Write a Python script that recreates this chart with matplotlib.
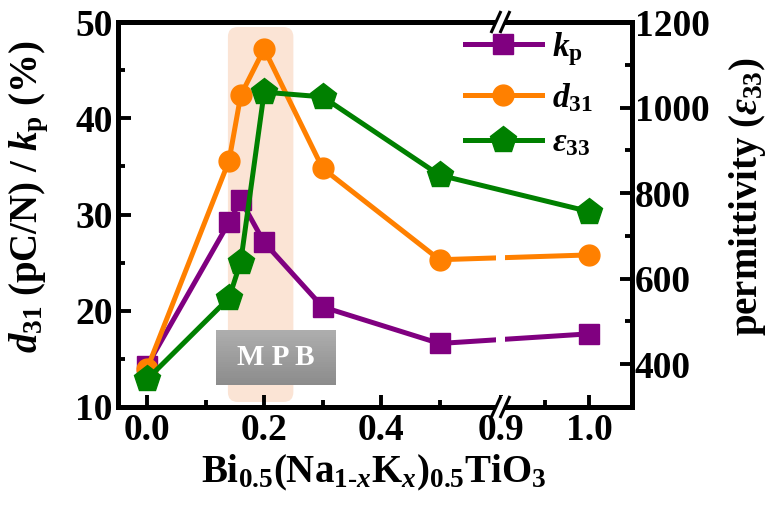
import numpy as np
import matplotlib
matplotlib.use('Agg')
import matplotlib.pyplot as plt
import matplotlib.transforms as mtransforms
from matplotlib.patches import Rectangle, FancyBboxPatch, Polygon

plt.rcParams['font.family'] = 'Liberation Serif'
plt.rcParams['font.weight'] = 'bold'
plt.rcParams['axes.labelweight'] = 'bold'
plt.rcParams['mathtext.fontset'] = 'custom'
plt.rcParams['mathtext.rm'] = 'Liberation Serif:bold'
plt.rcParams['mathtext.it'] = 'Liberation Serif:italic:bold'
plt.rcParams['mathtext.bf'] = 'Liberation Serif:bold'

# ── Data ──────────────────────────────────────────────────────────────────────
x_comp   = [0.0, 0.14, 0.16, 0.20, 0.30, 0.50, 1.00]
kp       = [14.3, 29.2, 31.5, 27.1, 20.4, 16.6, 17.6]
d31      = [14.0, 35.6, 42.4, 47.2, 34.8, 25.3, 25.8]
eps33    = [365, 555, 640, 1036, 1025, 842, 757]
mpb_span = (0.138, 0.25)

x_major = [0.0, 0.2, 0.4, 0.9, 1.0]
x_minor = [0.1, 0.3, 0.5, 0.95]
x_ticklabels = ['0.0', '0.2', '0.4', '0.9', '1.0']

C = {'kp': '#800080', 'd31': '#FF8000', 'eps': '#008000', 'mpb': '#FBE4D5'}

# ── broken x axis: 0 .. 0.605 | 0.9 .. 1.05 ───────────────────────────────────
BRK_LO, BRK_HI, K = 0.605, 0.9, 88 / 58.5
XP = [-1.0, BRK_LO, BRK_HI, 2.0]
UP = [-1.0, BRK_LO, BRK_LO + 1e-4, BRK_LO + 1e-4 + 1.1 * K]

def fwd(x):
    return np.interp(x, XP, UP)

def inv(u):
    return np.interp(u, UP, XP)

fig = plt.figure(figsize=(7.72, 5.08), dpi=100)
W, H = 514, 385
ax = fig.add_axes([118 / 772, 101 / 508, W / 772, H / 508])
ax.set_xscale('function', functions=(fwd, inv))
ax.set_xlim(-0.05, 1.049)
ax.set_ylim(10, 50)

ax2 = ax.twinx()
ax2.set_ylim(300, 1200)

# MPB shading + label box
trans_xy = mtransforms.blended_transform_factory(ax.transData, ax.transAxes)
shade = FancyBboxPatch((mpb_span[0], 0.013), mpb_span[1] - mpb_span[0], 0.974,
                       boxstyle='round,pad=0,rounding_size=0.017', mutation_aspect=1.5,
                       transform=trans_xy, fc=C['mpb'], ec='none', zorder=0.5)
ax.add_patch(shade)
grays = np.linspace(0.55, 0.68, 24)
y0, y1 = 12.3, 18.0
for i, g in enumerate(grays):
    h = (y1 - y0) / len(grays)
    ax.add_patch(Rectangle((0.118, y0 + i * h), 0.205, h * 1.02, fc=str(g), ec='none', zorder=0.8))
ax.text(0.2205, (y0 + y1) / 2, 'M P B', color='white', fontsize=21, ha='center', va='center',
        zorder=1)

lw = 3.6
l1, = ax.plot(x_comp, kp, color=C['kp'], lw=lw, marker='s', ms=14.5, mec=C['kp'],
              label=r'$k_\mathrm{p}$', zorder=3)
l2, = ax.plot(x_comp, d31, color=C['d31'], lw=lw, marker='o', ms=15, mec=C['d31'],
              label=r'$d_{31}$', zorder=3)
l3, = ax2.plot(x_comp, eps33, color=C['eps'], lw=lw, marker='p', ms=19.5, mec=C['eps'],
               label=r'$\varepsilon_{33}$', zorder=3)

# gap in the data lines at the break
xb = (fwd(BRK_HI) - fwd(-0.05)) / (fwd(1.049) - fwd(-0.05))
ax2.add_patch(Rectangle((xb - 5 / W, 12 / H), 9 / W, 245 / H, transform=ax2.transAxes,
                        fc='white', ec='none', zorder=2.6))

# axes styling
for a in (ax, ax2):
    for s in a.spines.values():
        s.set_linewidth(3.6)
ax.set_xticks(x_major)
ax.set_xticklabels(x_ticklabels)
ax.set_xticks(x_minor, minor=True)
ax.set_yticks([10, 20, 30, 40, 50])
ax.set_yticks([15, 25, 35, 45], minor=True)
ax2.set_yticks([400, 600, 800, 1000, 1200])
ax2.set_yticks([500, 700, 900, 1100], minor=True)
ax.tick_params(which='major', direction='in', length=9, width=2.8, labelsize=27, pad=4,
               top=False, right=False)
ax.tick_params(which='minor', direction='in', length=5, width=2.8, top=False, right=False)
ax2.tick_params(which='major', direction='in', length=9, width=2.8, labelsize=27, pad=2)
ax2.tick_params(which='minor', direction='in', length=5, width=2.8)
for t in ax.get_xticklabels() + ax.get_yticklabels() + ax2.get_yticklabels():
    t.set_fontweight('bold')

# break marks on top and bottom spines
for yb in (0.0, 1.0):
    hh = 11 / H
    sl = 5 / W
    poly = Polygon([(xb - 5 / W - sl, yb - hh), (xb + 4 / W - sl, yb - hh),
                    (xb + 4 / W + sl, yb + hh), (xb - 5 / W + sl, yb + hh)],
                   closed=True, transform=ax2.transAxes, fc='white', ec='none',
                   clip_on=False, zorder=10)
    ax2.add_patch(poly)
    for dx in (-5 / W, 4 / W):
        ax2.plot([xb + dx - sl, xb + dx + sl], [yb - hh, yb + hh], color='black', lw=2.2,
                 transform=ax2.transAxes, clip_on=False, zorder=11, solid_capstyle='butt')

ax.set_xlabel(r'Bi$_{0.5}$(Na$_{1\text{-}x}$K$_x$)$_{0.5}$TiO$_3$', fontsize=28,
              fontweight='bold')
ax.xaxis.set_label_coords(0.498, -0.12)
ax.set_ylabel(r'$d_{31}$ (pC/N) / $k_\mathrm{p}$ (%)', fontsize=28, fontweight='bold')
ax.yaxis.set_label_coords(-0.13, 0.545)
ax2.set_ylabel(r'permittivity ($\varepsilon_{33}$)', fontsize=28, fontweight='bold')
ax2.yaxis.set_label_coords(1.185, 0.545)

leg = ax2.legend(handles=[l1, l2, l3], loc='upper left',
                 bbox_to_anchor=((465 - 118) / W, 1 - 8 / H), frameon=False,
                 fontsize=24, handlelength=2.3, handletextpad=0.3, borderpad=0,
                 borderaxespad=0, labelspacing=0.4, numpoints=1)
leg.set_zorder(20)

fig.savefig('out.png', dpi=100)
